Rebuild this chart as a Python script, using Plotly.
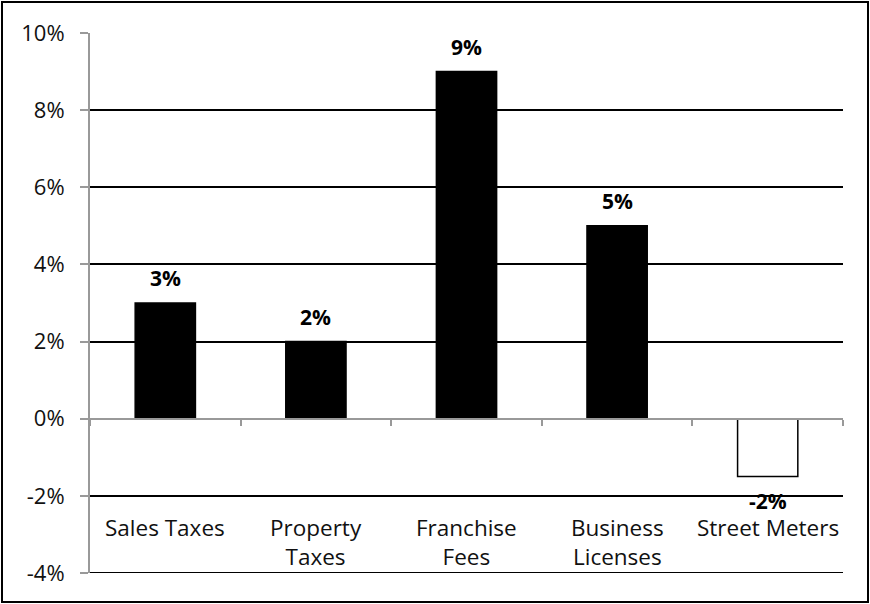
import plotly.graph_objects as go

categories = ["Sales Taxes", "Property Taxes", "Franchise Fees", "Business Licenses", "Street Meters"]
cat_labels = ["Sales Taxes", "Property<br>Taxes", "Franchise<br>Fees", "Business<br>Licenses", "Street Meters"]
values = [3, 2, 9, 5, -1.5]
value_labels = ["3%", "2%", "9%", "5%", "-2%"]
y_ticks = [-4, -2, 0, 2, 4, 6, 8, 10]
y_ticktext = ["-4%", "-2%", "0%", "2%", "4%", "6%", "8%", "10%"]

FONT = "'Open Sans', sans-serif"
W, H = 870, 604
ml, mr, mt, mb = 90, 27, 33, 31
ymin, ymax = -4, 10

fill = ["black" if v >= 0 else "white" for v in values]

fig = go.Figure(go.Bar(
    x=categories, y=values, width=0.4,
    marker=dict(color=fill, line=dict(color="black", width=1.5)),
    hoverinfo="skip",
))

annotations = []
for c, v, t in zip(categories, values, value_labels):
    annotations.append(dict(
        x=c, y=v, text="<b>%s</b>" % t, showarrow=False,
        yanchor="bottom" if v >= 0 else "top",
        yshift=9 if v >= 0 else -8,
        font=dict(family=FONT, size=21, color="black"),
    ))
for c, lab in zip(categories, cat_labels):
    annotations.append(dict(
        x=c, y=-2, text=lab, showarrow=False, yanchor="top", yshift=-14,
        font=dict(family=FONT, size=22.5, color="#111"),
    ))

pw = W - ml - mr
ph = H - mt - mb
shapes = [dict(
    type="rect", xref="paper", yref="paper",
    x0=(2 - ml) / pw, x1=(W - 2 - ml) / pw,
    y0=-(mb - 2) / ph, y1=1 + (mt - 2) / ph,
    line=dict(color="black", width=2), layer="below",
)]
shapes.append(dict(
    type="line", xref="paper", yref="y", x0=0, x1=1, y0=ymin, y1=ymin,
    line=dict(color="black", width=2), layer="below",
))

fig.update_layout(
    width=W, height=H,
    margin=dict(l=ml, r=mr, t=mt, b=mb),
    plot_bgcolor="white", paper_bgcolor="white",
    showlegend=False,
    annotations=annotations,
    shapes=shapes,
    xaxis=dict(
        type="category", showticklabels=False,
        showline=True, linecolor="#999", linewidth=2,
        ticks="outside", tickson="boundaries", ticklen=6, tickcolor="#999", tickwidth=2,
        showgrid=False, anchor="free",
        position=(0 - ymin) / (ymax - ymin),
    ),
    yaxis=dict(
        range=[ymin, ymax], tickvals=y_ticks, ticktext=y_ticktext,
        showline=True, linecolor="#999", linewidth=2,
        ticks="outside", ticklen=8, tickcolor="#999", tickwidth=2,
        showgrid=True, gridcolor="black", gridwidth=2,
        zeroline=False, ticklabelstandoff=11,
        tickfont=dict(family=FONT, size=22, color="#111"),
    ),
)

fig.write_html("out.html")
